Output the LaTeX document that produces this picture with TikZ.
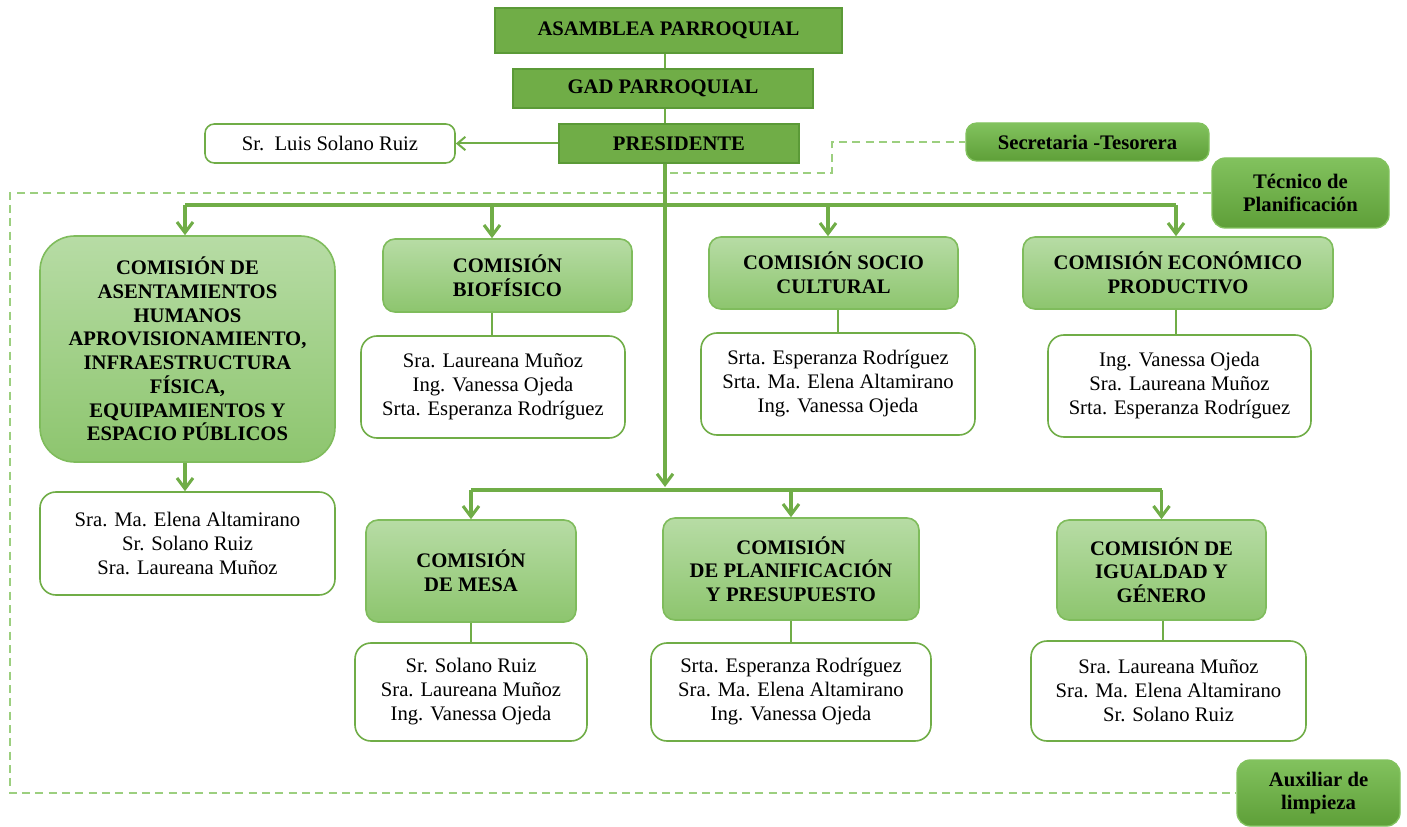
\documentclass[tikz,border=0pt]{standalone}
\usepackage{fontspec}
\setmainfont{Liberation Serif}
\usetikzlibrary{arrows.meta,calc}
\definecolor{dkg}{HTML}{70AD47}
\definecolor{dkgb}{HTML}{5B9A37}
\definecolor{lgt}{HTML}{B7DCA5}
\definecolor{lgb}{HTML}{8DC56E}
\definecolor{lgd}{HTML}{7FBC5C}
\definecolor{mgt}{HTML}{82C25E}
\definecolor{mgb}{HTML}{5E9F38}
\definecolor{dsh}{HTML}{9CCF7F}
\tikzset{
  bx/.style 2 args={minimum width=#1*0.75pt, minimum height=#2*0.75pt, inner sep=0pt, align=center},
  darkbox/.style={fill=dkg, draw=dkgb, line width=1.2pt, font=\fontsize{15.5}{17.8}\selectfont\bfseries},
  lightbox/.style={top color=lgt, bottom color=lgb, draw=lgd, line width=1.2pt, rounded corners=9pt,
    font=\fontsize{15.5}{17.8}\selectfont\bfseries},
  midbox/.style={top color=mgt, bottom color=mgb, draw=mgt, line width=1pt, rounded corners=8pt,
    font=\fontsize{15.5}{17.8}\selectfont\bfseries},
  whitebox/.style={fill=white, draw=dkg, line width=1.2pt, rounded corners=12pt,
    font=\fontsize{15.5}{18}\selectfont},
  bus/.style={draw=dkg, line width=2.3pt},
  arr/.style={draw=dkg, line width=2.3pt, -{Straight Barb[length=8pt,width=12pt]}},
  thinl/.style={draw=dkg, line width=1.3pt},
  dsl/.style={draw=dsh, line width=1.5pt, dash pattern=on 6pt off 4pt},
}
\begin{document}
\begin{tikzpicture}[x=0.75pt, y=-0.75pt]
\useasboundingbox (0,0) rectangle (1407,827);
% top chain
\node[darkbox, bx={347}{45}] (asam) at (668.5,30.5) {ASAMBLEA PARROQUIAL};
\node[darkbox, bx={300}{39}] (gad) at (663,88.5) {GAD PARROQUIAL};
\node[darkbox, bx={240}{39}] (pres) at (679,143.5) {PRESIDENTE};
\node[whitebox, rounded corners=7pt, bx={250}{39}] (luis) at (330,143.5) {Sr.\ \ Luis Solano Ruiz};
\node[midbox, bx={243}{38}] (secr) at (1087.5,142) {Secretaria -Tesorera};
\node[midbox, rounded corners=10pt, bx={177}{70}] (tecn) at (1300.5,193) {Técnico de\\Planificación};
\node[midbox, rounded corners=10pt, bx={163}{66}] (aux) at (1318.5,793) {Auxiliar de\\limpieza};
% commissions row 1
\node[lightbox, rounded corners=26pt, bx={295}{226}] (c1) at (187.5,349)
  {COMISIÓN DE\\ASENTAMIENTOS\\HUMANOS\\APROVISIONAMIENTO,\\INFRAESTRUCTURA\\FÍSICA,\\EQUIPAMIENTOS Y\\ESPACIO PÚBLICOS};
\node[lightbox, bx={249}{73}] (biof) at (507.5,275.5) {COMISIÓN\\BIOFÍSICO};
\node[lightbox, bx={249}{72}] (soc) at (833.5,273) {COMISIÓN SOCIO\\CULTURAL};
\node[lightbox, bx={310}{72}] (econ) at (1178,273) {COMISIÓN ECONÓMICO\\PRODUCTIVO};
% members row 1
\node[whitebox, bx={295}{103}] (m1) at (187.5,543.5) {Sra. Ma. Elena Altamirano\\Sr. Solano Ruiz\\Sra. Laureana Muñoz};
\node[whitebox, bx={264}{102}] (mbiof) at (493,387) {Sra. Laureana Muñoz\\Ing. Vanessa Ojeda\\Srta. Esperanza Rodríguez};
\node[whitebox, bx={274}{102}] (msoc) at (838,384) {Srta. Esperanza Rodríguez\\Srta. Ma. Elena Altamirano\\Ing. Vanessa Ojeda};
\node[whitebox, bx={263}{102}] (mecon) at (1179.5,386) {Ing. Vanessa Ojeda\\Sra. Laureana Muñoz\\Srta. Esperanza Rodríguez};
% commissions row 2
\node[lightbox, bx={210}{102}] (mesa) at (471,571) {COMISIÓN\\DE MESA};
\node[lightbox, bx={256}{102}] (plan) at (791,569) {COMISIÓN\\DE PLANIFICACIÓN\\Y PRESUPUESTO};
\node[lightbox, bx={209}{100}] (igu) at (1161.5,570) {COMISIÓN DE\\IGUALDAD Y\\GÉNERO};
% members row 2
\node[whitebox, bx={232}{98}] (mmesa) at (471,692) {Sr. Solano Ruiz\\Sra. Laureana Muñoz\\Ing. Vanessa Ojeda};
\node[whitebox, bx={280}{98}] (mplan) at (791,692) {Srta. Esperanza Rodríguez\\Sra. Ma. Elena Altamirano\\Ing. Vanessa Ojeda};
\node[whitebox, bx={275}{100}] (migu) at (1168.5,691) {Sra. Laureana Muñoz\\Sra. Ma. Elena Altamirano\\Sr. Solano Ruiz};
% coordinates
\coordinate (vx) at (665,0);
\coordinate (b1) at (0,205);
\coordinate (b2) at (0,487);
\coordinate (a1) at (185,0);
\coordinate (a2) at (492,0);
\coordinate (a3) at (828,0);
\coordinate (a4) at (1176,0);
\coordinate (a5) at (1163,0);
\coordinate (dl) at (10,0);
\coordinate (dm) at (832,0);
\coordinate (ds) at (670,173);
% dashed lines
\draw[dsl] (ds) -- (dm |- ds) -- (dm |- secr.west) -- (secr.west);
\draw[dsl] (tecn.west) -- (dl |- tecn.west) -- (dl |- aux.west) -- (aux.west);
% top chain connectors
\draw[thinl] (asam.south -| vx) -- (gad.north -| vx);
\draw[thinl] (gad.south -| vx) -- (pres.north -| vx);
\draw[thinl, line width=1.5pt, -{Straight Barb[length=6pt,width=10pt]}] (pres.west) -- (luis.east);
% main vertical
\draw[arr] (pres.south -| vx) -- (vx |- b2);
% bus 1
\draw[bus] (a1 |- b1) -- (a4 |- b1);
\draw[arr] (a1 |- b1) -- (a1 |- c1.north);
\draw[arr] (a2 |- b1) -- (a2 |- biof.north);
\draw[arr] (a3 |- b1) -- (a3 |- soc.north);
\draw[arr] (a4 |- b1) -- (a4 |- econ.north);
\draw[arr] (c1.south -| a1) -- (m1.north -| a1);
% bus 2
\coordinate (b2b) at (0,490);
\draw[bus] (mesa.north |- b2b) -- (igu.north |- b2b);
\draw[arr] (mesa.north |- b2b) -- (mesa.north);
\draw[arr] (plan.north |- b2b) -- (plan.north);
\draw[arr] (igu.north |- b2b) -- (igu.north);
% plain links
\draw[thinl] (biof.south -| a2) -- (mbiof.north -| a2);
\draw[thinl] (soc.south -| msoc.north) -- (msoc.north);
\draw[thinl] (econ.south -| a4) -- (mecon.north -| a4);
\draw[thinl] (mesa.south) -- (mmesa.north);
\draw[thinl] (plan.south) -- (mplan.north);
\draw[thinl] (igu.south -| a5) -- (migu.north -| a5);
\end{tikzpicture}
\end{document}
